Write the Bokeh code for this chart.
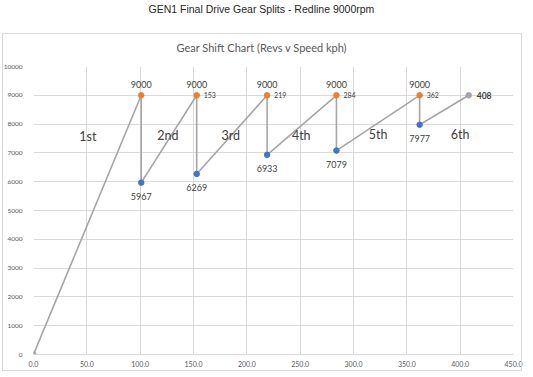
from bokeh.plotting import figure
from bokeh.models import ColumnDataSource, Title, FixedTicker, NumeralTickFormatter, InlineStyleSheet
from bokeh.core.properties import value
from bokeh.embed import file_html
from bokeh.resources import INLINE

# ---- data ----
shift_speed = [101, 153, 219, 284, 362]          # kph at redline shift
shift_rpm = [9000, 9000, 9000, 9000, 9000]       # redline
drop_rpm = [5967, 6269, 6933, 7079, 7977]        # revs after shift
start_speed, start_rpm = 0, 0
final_speed, final_rpm = 408, 9000
speed_labels = ["153", "219", "284", "362"]
gear_names = ["1st", "2nd", "3rd", "4th", "5th", "6th"]
gear_label_speed = [51, 126, 185, 251, 323, 400]
gear_label_rpm = [7570, 7600, 7600, 7600, 7630, 7630]
x_ticks = [0, 50, 100, 150, 200, 250, 300, 350, 400, 450]
y_ticks = [0, 1000, 2000, 3000, 4000, 5000, 6000, 7000, 8000, 9000, 10000]

# ---- layout ----
W, H = 533, 377
L, R, T, B = 31, 513, 66, 354
XMAX, YMAX = 450, 10000

p = figure(width=W, height=H, x_range=(0, XMAX), y_range=(0, YMAX),
           output_backend="svg", toolbar_location=None,
           min_border_left=L, min_border_right=W - R,
           min_border_top=T, min_border_bottom=H - B,
           title="GEN1 Final Drive Gear Splits - Redline 9000rpm")
p.outline_line_color = None
p.background_fill_color = "white"
p.border_fill_color = "white"

# main (outer) title
p.title.align = "left"
p.title.offset = 146 - L
p.title.text_font = "Liberation Sans"
p.title.text_font_size = "10.5px"
p.title.text_font_style = "normal"
p.title.text_color = "#262626"
p.title.standoff = 0
p.title.padding = dict(left=0, right=0, top=0, bottom=12)

# chart (inner) title
p.add_layout(Title(text="Gear Shift Chart (Revs v Speed kph)", align="left", offset=174 - L,
                   text_font="Lato", text_font_size="11px",
                   text_font_style="normal", text_color="#595959", standoff=25), "above")

# outer chart box (CSS overlay, non-text decoration)
p.stylesheets = [InlineStyleSheet(css="""
:host { position: relative; }
:host::after { content: ''; position: absolute; left: 2px; top: 33px; width: 518px; height: 336px;
  border: 1px solid #d9d9d9; pointer-events: none; }
""")]

grid_col = "#d9d9d9"
p.xgrid.grid_line_color = grid_col
p.ygrid.grid_line_color = grid_col
p.xaxis.ticker = FixedTicker(ticks=x_ticks)
p.yaxis.ticker = FixedTicker(ticks=y_ticks)
p.xgrid.ticker = FixedTicker(ticks=x_ticks)
p.ygrid.ticker = FixedTicker(ticks=y_ticks)
p.xaxis.formatter = NumeralTickFormatter(format="0.0")
p.yaxis.formatter = NumeralTickFormatter(format="0")
for ax in (p.xaxis, p.yaxis):
    ax.major_tick_line_color = None
    ax.minor_tick_line_color = None
    ax.major_label_text_color = "#595959"
    ax.major_label_text_font = "Lato"
p.xaxis.axis_line_color = grid_col
p.yaxis.axis_line_color = None
p.xaxis.major_label_text_font_size = "7px"
p.yaxis.major_label_text_font_size = "6.5px"
p.xaxis.major_label_standoff = 0
p.yaxis.major_label_standoff = 5

# main path
path_x = [start_speed]
path_y = [start_rpm]
for s, top, low in zip(shift_speed, shift_rpm, drop_rpm):
    path_x += [s, s]
    path_y += [top, low]
path_x.append(final_speed)
path_y.append(final_rpm)
p.line(path_x, path_y, line_color="#a5a5a5", line_width=1.6)

# markers
p.scatter([start_speed, final_speed], [start_rpm, final_rpm], size=5.5,
          fill_color="#a5a5a5", line_color="#a5a5a5")
p.scatter(shift_speed, shift_rpm, size=5.5, fill_color="#ed7d31", line_color="#ed7d31")
p.scatter(shift_speed, drop_rpm, size=5.5, fill_color="#4472c4", line_color="#4472c4")

lab_col = "#404040"
top_src = ColumnDataSource(dict(x=shift_speed, y=shift_rpm, t=[str(v) for v in shift_rpm]))
p.text("x", "y", text="t", source=top_src, text_align="center", text_baseline="middle",
       y_offset=-11, text_font=value("Lato"), text_font_size="9px", text_color=lab_col)
low_src = ColumnDataSource(dict(x=shift_speed, y=drop_rpm, t=[str(v) for v in drop_rpm]))
p.text("x", "y", text="t", source=low_src, text_align="center", text_baseline="middle",
       y_offset=13.5, text_font=value("Lato"), text_font_size="9px", text_color=lab_col)
spd_src = ColumnDataSource(dict(x=shift_speed[1:], y=shift_rpm[1:], t=speed_labels))
p.text("x", "y", text="t", source=spd_src, text_align="left", text_baseline="middle",
       x_offset=7, text_font=value("Lato"), text_font_size="7px", text_color=lab_col)
p.text([final_speed], [final_rpm], text=[str(final_speed)], text_align="left", text_baseline="middle",
       x_offset=8, text_font=value("Lato"), text_font_size="8.5px", text_font_style="bold",
       text_color=lab_col)

gear_src = ColumnDataSource(dict(x=gear_label_speed, y=gear_label_rpm, t=gear_names))
p.text("x", "y", text="t", source=gear_src, text_align="center", text_baseline="middle",
       text_font=value("Lato"), text_font_size="12.5px", text_color=lab_col)

open("out.html", "w").write(file_html(p, INLINE))
